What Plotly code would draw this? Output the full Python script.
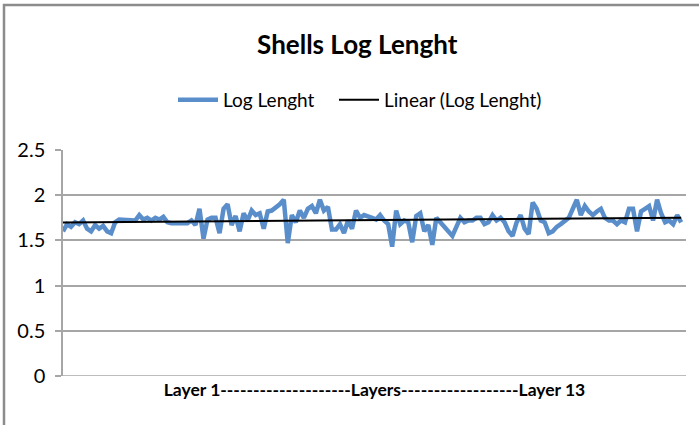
import numpy as np
import plotly.graph_objects as go

# Log length values (sample index -> value)
log_length = [
    1.60, 1.68, 1.65, 1.70, 1.68, 1.72, 1.63, 1.60, 1.67, 1.63,
    1.66, 1.60, 1.58, 1.70, 1.73, 1.73, 1.72, 1.72, 1.72, 1.78,
    1.73, 1.75, 1.72, 1.75, 1.73, 1.76, 1.70, 1.69, 1.69, 1.69,
    1.69, 1.69, 1.72, 1.67, 1.85, 1.52, 1.73, 1.75, 1.75, 1.58,
    1.85, 1.90, 1.67, 1.77, 1.60, 1.80, 1.72, 1.83, 1.78, 1.80,
    1.63, 1.82, 1.83, 1.86, 1.90, 1.95, 1.47, 1.78, 1.70, 1.83,
    1.75, 1.85, 1.88, 1.80, 1.95, 1.83, 1.87, 1.62, 1.62, 1.68,
    1.58, 1.72, 1.63, 1.83, 1.75, 1.78, 1.77, 1.75, 1.73, 1.78,
    1.72, 1.68, 1.43, 1.83, 1.68, 1.72, 1.70, 1.48, 1.77, 1.80,
    1.60, 1.67, 1.45, 1.75, 1.70, 1.65, 1.60, 1.55, 1.65, 1.75,
    1.70, 1.72, 1.72, 1.75, 1.75, 1.68, 1.70, 1.78, 1.72, 1.75,
    1.70, 1.60, 1.55, 1.70, 1.78, 1.63, 1.57, 1.92, 1.85, 1.72,
    1.70, 1.58, 1.60, 1.65, 1.68, 1.72, 1.75, 1.85, 1.95, 1.78,
    1.88, 1.82, 1.78, 1.82, 1.85, 1.75, 1.72, 1.72, 1.68, 1.72,
    1.70, 1.85, 1.85, 1.60, 1.82, 1.85, 1.88, 1.72, 1.95, 1.80,
    1.70, 1.72, 1.68, 1.78, 1.70,
]
sample_index = list(range(1, len(log_length) + 1))

title_text = "Shells Log Lenght"
series_name = "Log Lenght"
trend_name = "Linear (Log Lenght)"
x_title = "Layer 1--------------------Layers------------------Layer 13"
y_ticks = [0, 0.5, 1, 1.5, 2, 2.5]
y_tick_text = ["0", "0.5", "1", "1.5", "2", "2.5"]

# Linear trendline computed from the data
coef = np.polyfit(sample_index, log_length, 1)
trend = list(np.polyval(coef, sample_index))

FONT = "Lato"
GRID = "#a6a6a6"
NBSP = "\u00a0"

fig = go.Figure()
fig.add_trace(go.Scatter(
    x=sample_index, y=log_length, mode="lines",
    name=series_name + NBSP * 3,
    line=dict(color="#5a8ecb", width=4.5),
))
fig.add_trace(go.Scatter(
    x=sample_index, y=trend, mode="lines", name=trend_name,
    line=dict(color="#000000", width=2),
))

fig.update_layout(
    width=699, height=425,
    margin=dict(l=63, r=13, t=150, b=49, autoexpand=False),
    paper_bgcolor="white", plot_bgcolor="white",
    font=dict(family=FONT, size=19, color="#000000"),
    title=dict(text="<b>" + title_text + "</b>", x=0.511, xanchor="center",
               y=1 - 45 / 425, yanchor="middle",
               font=dict(family=FONT, size=26, color="#000000")),
    showlegend=True,
    legend=dict(orientation="h", x=(360 - 63) / 623, xanchor="center",
                y=(376 - 100) / 226, yanchor="middle",
                font=dict(family=FONT, size=19), bgcolor="rgba(0,0,0,0)",
                itemwidth=40, tracegroupgap=0),
    xaxis=dict(range=[1, len(log_length) + 1.2], showgrid=False,
               showticklabels=False, ticks="", zeroline=False,
               showline=False, automargin=False,
               title=dict(text="<b>" + x_title + "</b>", standoff=7,
                          font=dict(family=FONT, size=17.5))),
    yaxis=dict(range=[0, 2.5], tickvals=y_ticks, ticktext=y_tick_text,
               showgrid=True, gridcolor=GRID, gridwidth=1.5,
               zeroline=False, showline=True, linecolor=GRID, linewidth=1.5,
               ticks="outside", ticklen=6, tickcolor=GRID, tickwidth=1.5,
               ticklabelstandoff=6, automargin=False,
               tickfont=dict(family=FONT, size=20)),
    shapes=[
        # x axis line at 0
        dict(type="line", xref="paper", yref="y", x0=0, x1=1, y0=0, y1=0,
             line=dict(color=GRID, width=1.5)),
        # chart outer border (left and top visible, right/bottom off-canvas)
        dict(type="rect", xref="paper", yref="paper", layer="above",
             x0=-59 / 623, x1=1.05, y0=-0.3, y1=(376 - 5) / 226,
             line=dict(color="#8c8c8c", width=2.5),
             fillcolor="rgba(0,0,0,0)"),
    ],
)

fig.write_html("out.html",
               config={"displayModeBar": False},
               post_script="document.body.style.margin='0';"
                           "document.body.style.overflow='hidden';")
